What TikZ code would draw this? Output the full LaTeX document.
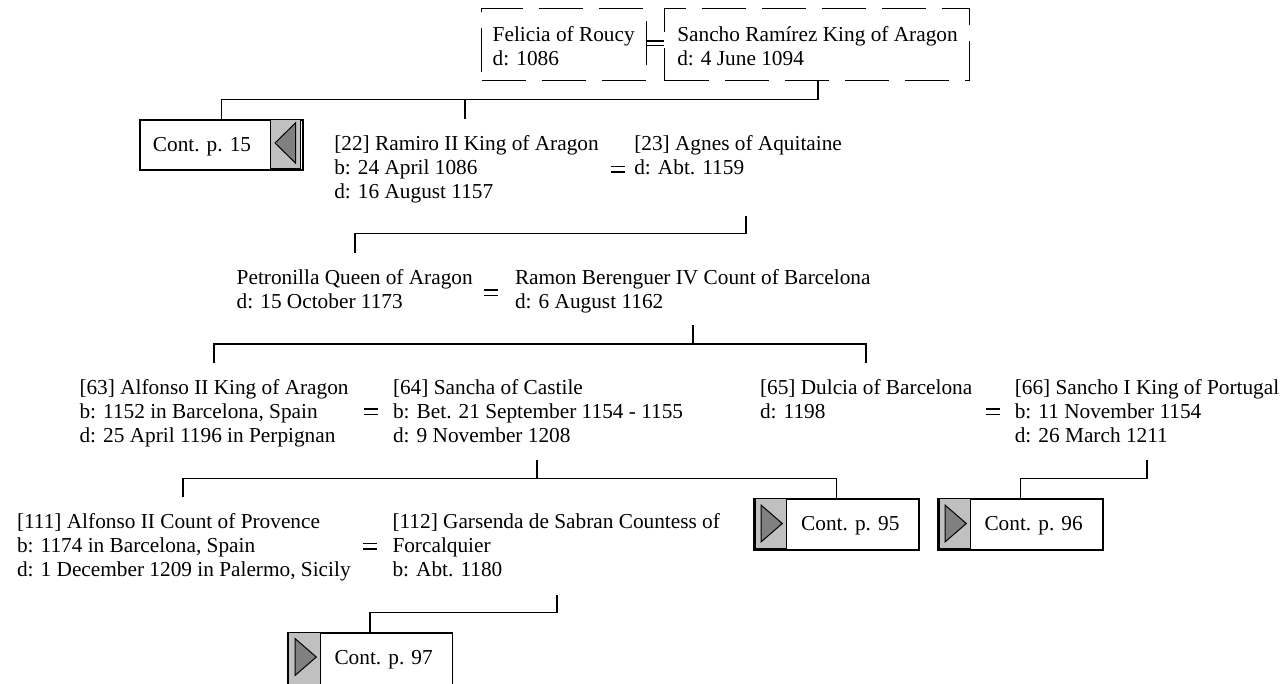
\documentclass[tikz,border=0pt]{standalone}
\usepackage{fontspec}
\setmainfont{Liberation Serif}
\definecolor{panelgray}{RGB}{192,192,192}
\definecolor{trigray}{RGB}{128,128,128}
\newcommand\ppl[1]{\begin{tabular}[t]{@{}l@{}}#1\end{tabular}}
\begin{document}
\begin{tikzpicture}[x=1pt,y=-1pt,
  font=\fontsize{21.3}{24.3}\selectfont,
  conn/.style={line width=1.5pt},
  eqline/.style={line width=1.5pt},
  dbox/.style={draw, line width=1.1pt, dash pattern=on 44pt off 16pt, inner sep=0pt, anchor=north west},
  contbox/.style={draw, line width=1.5pt, fill=white, inner sep=0pt, anchor=north west, minimum height=51pt, minimum width=165pt},
  panel/.style={draw, line width=0.9pt, fill=panelgray},
  tri/.style={draw, line width=1pt, fill=trigray, line join=miter},
  person/.style={anchor=base west, inner sep=0pt, outer sep=0pt},
  conttext/.style={anchor=base west, inner sep=0pt}]
\useasboundingbox (0,0) rectangle (1285,683);

% ---- top couple (dashed boxes)
\node[dbox, minimum width=164.7pt, minimum height=71.7pt] (fbox) at (481,8.3) {};
\node[dbox, minimum width=304.7pt, minimum height=71.7pt] (sbox) at (664.3,8.3) {};
\node[person] (felicia) at (492.7,41.5) {\ppl{Felicia of Roucy\\d: 1086}};
\node[person] (sancho) at (677.3,41.5) {\ppl{Sancho Ramírez King of Aragon\\d: 4 June 1094}};
\draw[line width=1.2pt] (fbox.east |- 0,41) -- (sbox.west |- 0,41);
\draw[line width=1.2pt] (fbox.east |- 0,45.7) -- (sbox.west |- 0,45.7);

% ---- Cont. p. 15
\node[contbox, minimum width=163pt, minimum height=50pt] (cont15) at (139,119) {};
\draw[panel] (270,119.7) rectangle (300,168.3);
\draw[tri] (295.7,122.7) -- (275,143) -- (295.7,163.3) -- cycle;
\node[conttext] (t15) at (152.7,151) {Cont. p. 15};

% ---- generation 2
\node[person] (ramiro) at (334.3,150) {\ppl{[22] Ramiro II King of Aragon\\b: 24 April 1086\\d: 16 August 1157}};
\node[person] (agnes) at (634.3,150) {\ppl{[23] Agnes of Aquitaine\\d: Abt. 1159}};
\draw[eqline] (611,166.3) -- (625,166.3);
\draw[eqline] (611,171.8) -- (625,171.8);

\coordinate (sbot) at (818,80);
\coordinate (j1) at (818,99.3);
\coordinate (ramtop) at (465,119);
\draw[conn] (sbot) -- (j1) -| (cont15.north);
\draw[conn] (ramtop) -- (465,99.3);

% ---- generation 3
\node[person] (petro) at (236.7,284.3) {\ppl{Petronilla Queen of Aragon\\d: 15 October 1173}};
\node[person] (ramon) at (515,284.3) {\ppl{Ramon Berenguer IV Count of Barcelona\\d: 6 August 1162}};
\draw[eqline] (484,290) -- (498,290);
\draw[eqline] (484,295.5) -- (498,295.5);

\coordinate (abot) at (746,216);
\coordinate (j2) at (746,233.5);
\coordinate (petop) at (355,252.7);
\draw[conn] (abot) -- (j2) -| (petop);

% ---- generation 4
\node[person] (alf63) at (79.5,394) {\ppl{[63] Alfonso II King of Aragon\\b: 1152 in Barcelona, Spain\\d: 25 April 1196 in Perpignan}};
\node[person] (sancha) at (393,394) {\ppl{[64] Sancha of Castile\\b: Bet. 21 September 1154 - 1155\\d: 9 November 1208}};
\node[person] (dulcia) at (760,394) {\ppl{[65] Dulcia of Barcelona\\d: 1198}};
\node[person] (sancho1) at (1014.8,394) {\ppl{[66] Sancho I King of Portugal\\b: 11 November 1154\\d: 26 March 1211}};
\draw[eqline] (364,409) -- (378,409);
\draw[eqline] (364,414.5) -- (378,414.5);
\draw[eqline] (986,409) -- (1000,409);
\draw[eqline] (986,414.5) -- (1000,414.5);

\coordinate (rbot) at (693,325);
\coordinate (j3) at (693,344);
\coordinate (alftop) at (214,362.5);
\coordinate (dultop) at (866,362.5);
\draw[conn] (rbot) -- (j3);
\draw[conn] (alftop) |- (dultop |- j3) -- (dultop);

% ---- generation 5
\node[person] (alf111) at (17,528.3) {\ppl{[111] Alfonso II Count of Provence\\b: 1174 in Barcelona, Spain\\d: 1 December 1209 in Palermo, Sicily}};
\node[person] (gars) at (392.5,528.3) {\ppl{[112] Garsenda de Sabran Countess of\\Forcalquier\\b: Abt. 1180}};
\draw[eqline] (363,543.3) -- (377,543.3);
\draw[eqline] (363,548.8) -- (377,548.8);

% ---- Cont. p. 95 / 96
\node[contbox] (cont95) at (753,498) {};
\draw[panel] (755.2,498.7) rectangle (786.7,548.3);
\draw[tri] (761,505) -- (782.3,523.5) -- (761,542) -- cycle;
\node[conttext] (t95) at (801,530.5) {Cont. p. 95};

\node[contbox] (cont96) at (937,498) {};
\draw[panel] (939.2,498.7) rectangle (970.5,548.3);
\draw[tri] (945,505) -- (966.3,523.5) -- (945,542) -- cycle;
\node[conttext] (t96) at (984.3,530.5) {Cont. p. 96};

\coordinate (sabot) at (537,459.5);
\coordinate (j4) at (537,478.3);
\coordinate (a111top) at (183,497);
\draw[conn] (sabot) -- (j4);
\draw[conn] (a111top) |- (cont95.north |- j4) -- (cont95.north);

\coordinate (s1bot) at (1147,459.5);
\draw[conn] (s1bot) |- (cont96.north |- j4) -- (cont96.north);

% ---- Cont. p. 97
\node[contbox, minimum height=52pt] (cont97) at (286.7,632) {};
\draw[panel] (288.9,632.7) rectangle (320.7,684);
\draw[tri] (295,638.5) -- (316.3,657) -- (295,675.5) -- cycle;
\node[conttext] (t97) at (334.3,664) {Cont. p. 97};

\coordinate (gbot) at (557,594.5);
\draw[conn] (gbot) |- (cont97.north |- 0,612.7) -- (cont97.north);
\end{tikzpicture}
\end{document}
